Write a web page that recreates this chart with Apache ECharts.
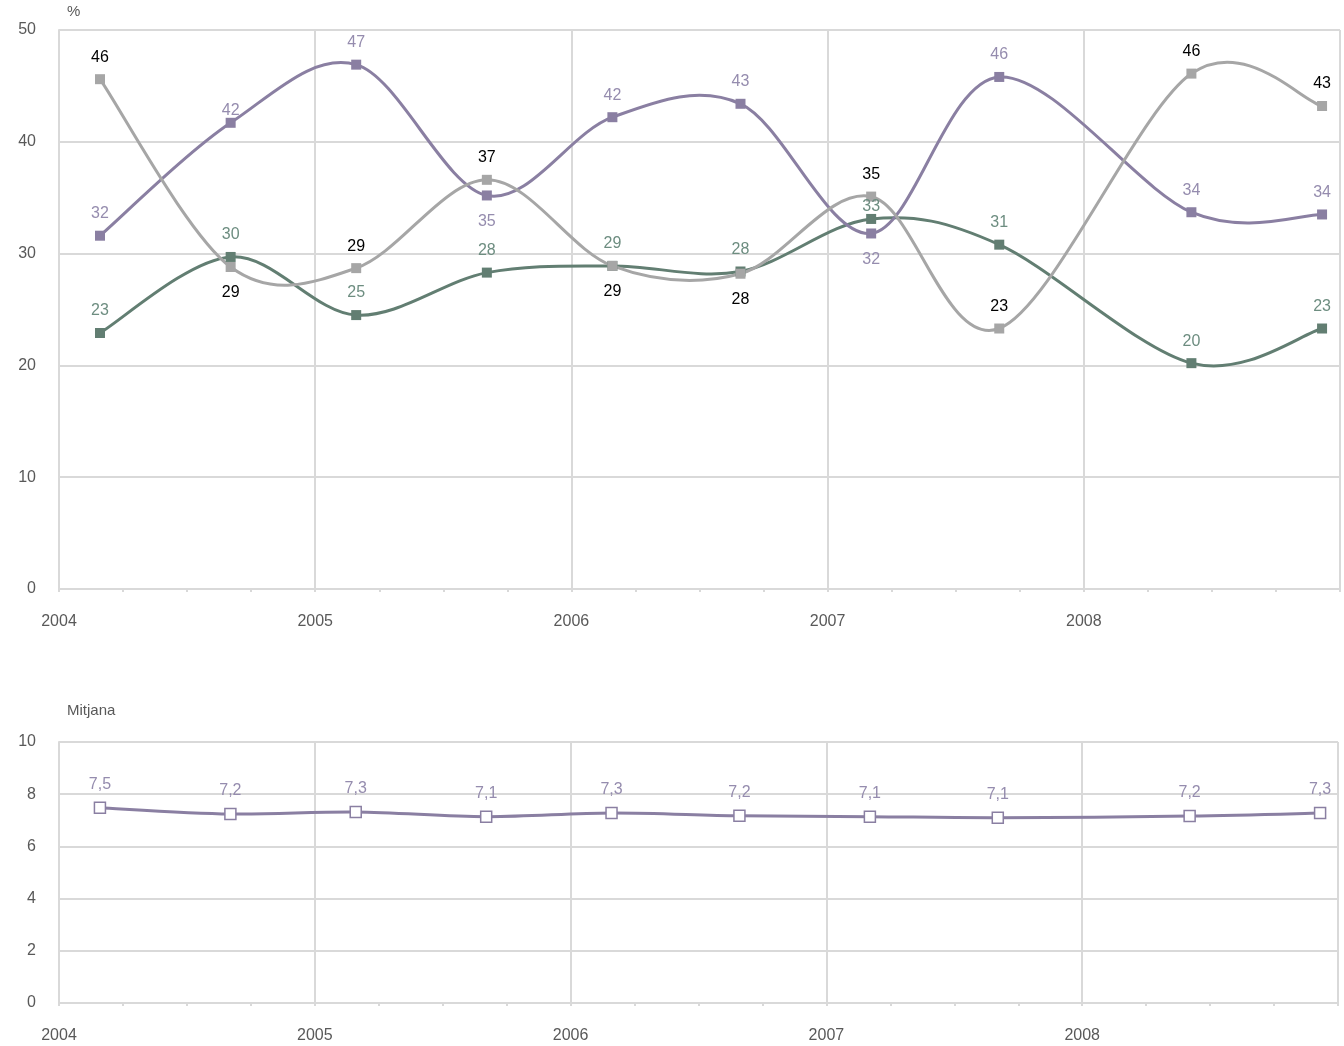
<!DOCTYPE html>
<html>
<head>
<meta charset="utf-8">
<script src="https://cdn.jsdelivr.net/npm/echarts@6/dist/echarts.min.js"></script>
<style>html,body{margin:0;padding:0;background:#fff}#c{width:1344px;height:1046px}</style>
</head>
<body>
<div id="c"></div>
<script>
// ---- data ----
const surveyDates = [2004.16, 2004.67, 2005.16, 2005.67, 2006.16, 2006.66, 2007.17, 2007.67, 2008.42, 2008.93];
const seriesPurple = [31.6, 41.7, 46.9, 35.2, 42.2, 43.4, 31.8, 45.8, 33.7, 33.5];
const seriesGray   = [45.6, 28.8, 28.7, 36.6, 28.9, 28.2, 35.1, 23.3, 46.1, 43.2];
const seriesGreen  = [22.9, 29.7, 24.5, 28.3, 28.9, 28.4, 33.1, 30.8, 20.2, 23.3];
const seriesMean   = [7.48, 7.24, 7.32, 7.14, 7.28, 7.17, 7.14, 7.1, 7.16, 7.28];
const yearTicks = [2004, 2005, 2006, 2007, 2008];

// ---- label placement (style) ----
const posPurple = ['t','t2','t','b','t','t','b','t','t','t'];
const posGray   = ['t','b','t','t','b','b','t','t','t','t'];
const posGreen  = ['t','t','t','t','t','t','t2','t','t','t'];

const FONT = 'Liberation Sans, Arial, sans-serif';
const FS = 16;
const C_PURPLE = '#8a7fa2', C_PURPLE_L = '#958cae';
const C_GRAY = '#a6a6a6';
const C_GREEN = '#627e72', C_GREEN_L = '#6d8d80';
const C_GRID = '#d9d9d9';

function labelFor(p) {
  if (p === 'b') return { position: 'bottom', distance: 13 };
  if (p === 't2') return { position: 'top', distance: -1 };
  return { position: 'top', distance: 9 };
}
function pairs(vals) { return vals.map((v, i) => [surveyDates[i], v]); }
function build(vals, pos) {
  return vals.map((v, i) => ({ value: [surveyDates[i], v], label: labelFor(pos[i]) }));
}

const xAxisBase = (gi) => ({
  type: 'value', gridIndex: gi, min: 2004, max: 2009, interval: 1,
  axisLine: { show: true, lineStyle: { color: C_GRID, width: 2 } },
  axisTick: { show: true, length: 3, lineStyle: { color: C_GRID, width: 2 } },
  minorTick: { show: true, splitNumber: 4, length: 3, lineStyle: { color: C_GRID, width: 2 } },
  splitLine: { show: true, lineStyle: { color: C_GRID, width: 2 } },
  axisLabel: {
    margin: 25, color: '#595959', fontSize: FS, fontFamily: FONT,
    formatter: v => (yearTicks.indexOf(v) >= 0 ? String(v) : '')
  }
});
const yAxisBase = (gi, max, interval) => ({
  type: 'value', gridIndex: gi, min: 0, max: max, interval: interval,
  axisLine: { show: true, lineStyle: { color: C_GRID, width: 2 } },
  axisTick: { show: false },
  splitLine: { show: true, lineStyle: { color: C_GRID, width: 2 } },
  axisLabel: { margin: 23, color: '#595959', fontSize: FS, fontFamily: FONT }
});

// Excel-like (Catmull-Rom) smoothed curve drawn through the axis scales
function curveSeries(vals, gi, color) {
  const data = pairs(vals);
  return {
    type: 'custom', xAxisIndex: gi, yAxisIndex: gi, silent: true, z: 2,
    data: data,
    renderItem: function (params, api) {
      const i = params.dataIndex;
      const n = data.length;
      if (i >= n - 1) return null;
      const P = k => api.coord(data[Math.max(0, Math.min(n - 1, k))]);
      const p0 = P(i - 1), p1 = P(i), p2 = P(i + 1), p3 = P(i + 2);
      const t = 1 / 6;
      return {
        type: 'bezierCurve',
        shape: {
          x1: p1[0], y1: p1[1], x2: p2[0], y2: p2[1],
          cpx1: p1[0] + (p2[0] - p0[0]) * t, cpy1: p1[1] + (p2[1] - p0[1]) * t,
          cpx2: p2[0] - (p3[0] - p1[0]) * t, cpy2: p2[1] - (p3[1] - p1[1]) * t
        },
        style: { stroke: color, lineWidth: 3, fill: null, lineCap: 'round' }
      };
    }
  };
}

const markSeries = (name, vals, pos, color, labelColor) => ({
  name: name, type: 'line', xAxisIndex: 0, yAxisIndex: 0, z: 3,
  symbol: 'rect', symbolSize: 10,
  lineStyle: { opacity: 0, width: 0 },
  itemStyle: { color: color },
  label: { show: true, color: labelColor, fontSize: FS, fontFamily: FONT, formatter: p => Math.round(p.value[1]) },
  data: build(vals, pos)
});

const chart = echarts.init(document.getElementById('c'), null, { renderer: 'canvas' });
chart.setOption({
  animation: false,
  backgroundColor: '#fff',
  grid: [
    { left: 59, right: 4, top: 30, bottom: 457 },
    { left: 59, right: 6, top: 742, bottom: 43 }
  ],
  xAxis: [xAxisBase(0), xAxisBase(1)],
  yAxis: [yAxisBase(0, 50, 10), yAxisBase(1, 10, 2)],
  graphic: [
    { type: 'text', left: 67, top: 4, style: { text: '%', fill: '#595959', font: '15px ' + FONT } },
    { type: 'text', left: 67, top: 703, style: { text: 'Mitjana', fill: '#595959', font: '15px ' + FONT } }
  ],
  series: [
    curveSeries(seriesGreen, 0, C_GREEN),
    curveSeries(seriesPurple, 0, C_PURPLE),
    curveSeries(seriesGray, 0, C_GRAY),
    markSeries('green', seriesGreen, posGreen, C_GREEN, C_GREEN_L),
    markSeries('purple', seriesPurple, posPurple, C_PURPLE, C_PURPLE_L),
    markSeries('gray', seriesGray, posGray, C_GRAY, '#000000'),
    curveSeries(seriesMean, 1, C_PURPLE),
    {
      name: 'mitjana', type: 'line', xAxisIndex: 1, yAxisIndex: 1, z: 3,
      symbol: 'rect', symbolSize: 11,
      lineStyle: { opacity: 0, width: 0 },
      itemStyle: { color: '#ffffff', borderColor: C_PURPLE, borderWidth: 1.5 },
      label: { show: true, position: 'top', distance: 9, color: C_PURPLE_L, fontSize: FS, fontFamily: FONT,
        formatter: p => p.value[1].toFixed(1).replace('.', ',') },
      data: pairs(seriesMean)
    }
  ]
});
</script>
</body>
</html>
